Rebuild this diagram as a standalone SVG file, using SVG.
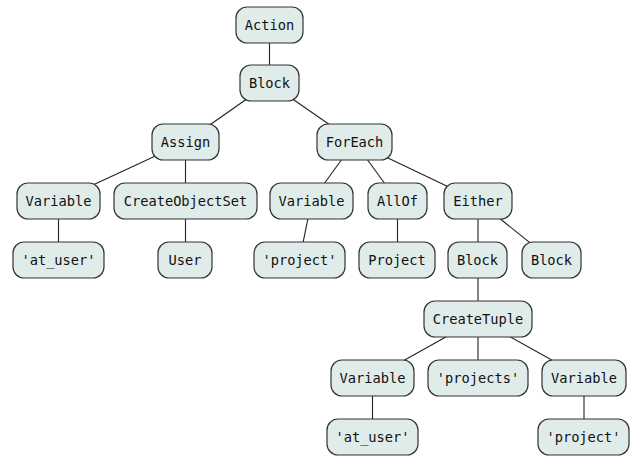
<svg xmlns="http://www.w3.org/2000/svg" width="636" height="459" viewBox="0 0 636 459">
<style>
.n rect{fill:#e0ecea;stroke:#333;stroke-width:1.2}
.n text{font-family:"DejaVu Sans Mono","Liberation Mono",monospace;font-size:13.7px;fill:#111;text-anchor:middle}
#edges line{stroke:#222;stroke-width:1.1}
</style>
<rect width="636" height="459" fill="#fff"/>
<g id="edges">
<line x1="269.5" y1="25" x2="269.5" y2="83"/>
<line x1="269.5" y1="83" x2="185.5" y2="142"/>
<line x1="269.5" y1="83" x2="354.5" y2="142"/>
<line x1="185.5" y1="142" x2="58.5" y2="201"/>
<line x1="185.5" y1="142" x2="185.5" y2="201"/>
<line x1="354.5" y1="142" x2="311.5" y2="201"/>
<line x1="354.5" y1="142" x2="397.5" y2="201"/>
<line x1="354.5" y1="142" x2="478" y2="201"/>
<line x1="58.5" y1="201" x2="58.5" y2="260"/>
<line x1="185.5" y1="201" x2="185.5" y2="260"/>
<line x1="311.5" y1="201" x2="299.5" y2="260"/>
<line x1="397.5" y1="201" x2="397.5" y2="260"/>
<line x1="478" y1="201" x2="478" y2="260"/>
<line x1="478" y1="201" x2="551.5" y2="260"/>
<line x1="478" y1="260" x2="478" y2="319"/>
<line x1="478" y1="319" x2="372.5" y2="378"/>
<line x1="478" y1="319" x2="478" y2="378"/>
<line x1="478" y1="319" x2="584" y2="378"/>
<line x1="372.5" y1="378" x2="372.5" y2="437"/>
<line x1="584" y1="378" x2="584" y2="437"/>
</g>
<g id="n_action" class="n"><rect x="236" y="7" width="67" height="36" rx="11"/><text x="269.5" y="29.8">Action</text></g>
<g id="n_block1" class="n"><rect x="240" y="65" width="59" height="36" rx="11"/><text x="269.5" y="87.8">Block</text></g>
<g id="n_assign" class="n"><rect x="152" y="124" width="67" height="36" rx="11"/><text x="185.5" y="146.8">Assign</text></g>
<g id="n_foreach" class="n"><rect x="317" y="124" width="75" height="36" rx="11"/><text x="354.5" y="146.8">ForEach</text></g>
<g id="n_var1" class="n"><rect x="17" y="183" width="83" height="36" rx="11"/><text x="58.5" y="205.8">Variable</text></g>
<g id="n_cos" class="n"><rect x="114" y="183" width="143" height="36" rx="11"/><text x="185.5" y="205.8">CreateObjectSet</text></g>
<g id="n_var2" class="n"><rect x="270" y="183" width="83" height="36" rx="11"/><text x="311.5" y="205.8">Variable</text></g>
<g id="n_allof" class="n"><rect x="368" y="183" width="59" height="36" rx="11"/><text x="397.5" y="205.8">AllOf</text></g>
<g id="n_either" class="n"><rect x="444" y="183" width="68" height="36" rx="11"/><text x="478" y="205.8">Either</text></g>
<g id="n_atuser1" class="n"><rect x="13" y="242" width="91" height="36" rx="11"/><text x="58.5" y="264.8">'at_user'</text></g>
<g id="n_user" class="n"><rect x="158" y="242" width="54" height="36" rx="11"/><text x="185" y="264.8">User</text></g>
<g id="n_project1" class="n"><rect x="254" y="242" width="91" height="36" rx="11"/><text x="299.5" y="264.8">'project'</text></g>
<g id="n_project" class="n"><rect x="359" y="242" width="76" height="36" rx="11"/><text x="397" y="264.8">Project</text></g>
<g id="n_block2" class="n"><rect x="448" y="242" width="59" height="36" rx="11"/><text x="477.5" y="264.8">Block</text></g>
<g id="n_block3" class="n"><rect x="522" y="242" width="59" height="36" rx="11"/><text x="551.5" y="264.8">Block</text></g>
<g id="n_ctuple" class="n"><rect x="424" y="301" width="108" height="36" rx="11"/><text x="478" y="323.8">CreateTuple</text></g>
<g id="n_var3" class="n"><rect x="331" y="360" width="83" height="36" rx="11"/><text x="372.5" y="382.8">Variable</text></g>
<g id="n_projects" class="n"><rect x="428" y="360" width="100" height="36" rx="11"/><text x="478" y="382.8">'projects'</text></g>
<g id="n_var4" class="n"><rect x="542" y="360" width="84" height="36" rx="11"/><text x="584" y="382.8">Variable</text></g>
<g id="n_atuser2" class="n"><rect x="327" y="419" width="91" height="36" rx="11"/><text x="372.5" y="441.8">'at_user'</text></g>
<g id="n_project2" class="n"><rect x="538" y="419" width="91" height="36" rx="11"/><text x="583.5" y="441.8">'project'</text></g>
</svg>
